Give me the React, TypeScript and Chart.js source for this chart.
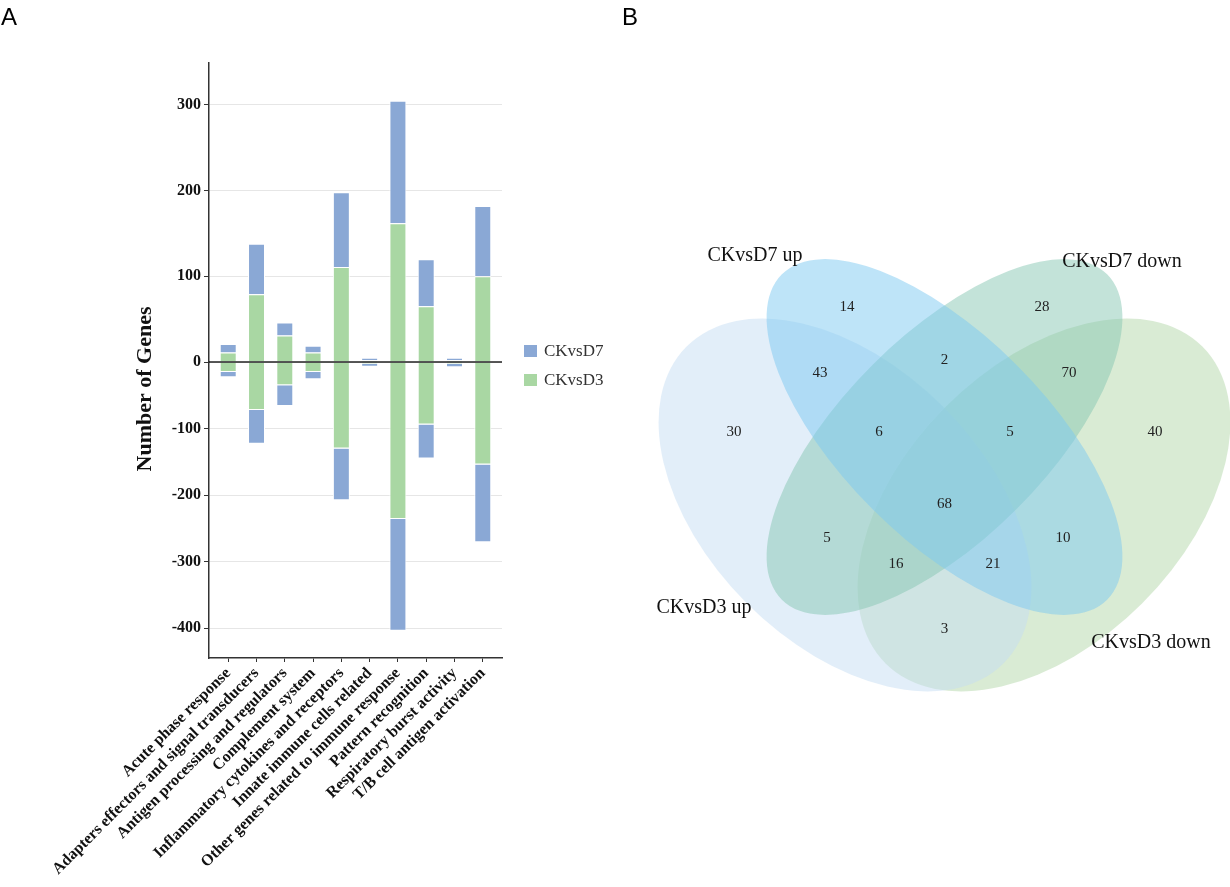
import React, { useEffect, useRef } from "react";
import { Chart, registerables } from "chart.js";

Chart.register(...registerables);

// ---------------- Panel A data ----------------
const categories = [
  "Acute phase response",
  "Adapters effectors and signal transducers",
  "Antigen processing and regulators",
  "Complement system",
  "Inflammatory cytokines and receptors",
  "Innate immune cells related",
  "Other genes related to immune response",
  "Pattern recognition",
  "Respiratory burst activity",
  "T/B cell antigen activation",
];
// stacked segments: CKvsD3 at the base, CKvsD7 stacked outward
const d3Up = [11, 79, 31, 11, 111, 2, 162, 65, 2, 100];
const d7Up = [10, 59, 15, 8, 87, 3, 143, 55, 3, 82];
const d3Down = [-15, -72, -35, -15, -130, -3, -236, -94, -3, -154];
const d7Down = [-8, -51, -31, -11, -78, -4, -168, -51, -5, -117];
const seriesNames = ["CKvsD7", "CKvsD3"];
const yTicksStep = 100;

// ---------------- Panel B data ----------------
const vennSetNames = ["CKvsD3 up", "CKvsD7 up", "CKvsD7 down", "CKvsD3 down"];
const vennRegionIds = [
  "D3u", "D7u", "D3u&D7u", "D3u&D7u&D7d", "D7u&D7d", "D7d", "D7d&D3d", "D7u&D7d&D3d",
  "D3d", "D3u&D7d", "D3u&D7d&D3d", "all", "D3u&D7u&D3d", "D7u&D3d", "D3u&D3d",
];
const vennCounts = [30, 14, 43, 6, 2, 28, 70, 5, 40, 5, 16, 68, 21, 10, 3];

// ---------------- layout (not data) ----------------
const SERIF = "'Liberation Serif', 'Times New Roman', serif";
const SANS = "'Liberation Sans', Arial, sans-serif";
const BLUE = "#8AA8D5";
const GREEN = "#A9D7A3";

const vennRegionPos: Record<string, [number, number]> = {
  "D3u": [734, 432],
  "D7u": [847, 307],
  "D3u&D7u": [820, 373],
  "D3u&D7u&D7d": [879, 432],
  "D7u&D7d": [944.5, 360],
  "D7d": [1042, 307],
  "D7d&D3d": [1069, 373],
  "D7u&D7d&D3d": [1010, 432],
  "D3d": [1155, 432],
  "D3u&D7d": [827, 538],
  "D3u&D7d&D3d": [896, 564],
  "all": [944.5, 504],
  "D3u&D7u&D3d": [993, 564],
  "D7u&D3d": [1063, 538],
  "D3u&D3d": [944.5, 629],
};
// drawing order: D3 down, D3 up, D7 down, D7 up
const vennEllipses = [
  { set: 3, cx: 1044, cy: 505, a: 224, b: 139, rot: -45, fill: "rgba(180,216,170,0.5)" },
  { set: 0, cx: 845, cy: 505, a: 224, b: 139, rot: 45, fill: "rgba(198,222,243,0.5)" },
  { set: 2, cx: 944.5, cy: 437, a: 230, b: 102, rot: -45, fill: "rgba(135,200,180,0.5)" },
  { set: 1, cx: 944.5, cy: 437, a: 230, b: 102, rot: 45, fill: "rgba(125,202,242,0.5)" },
];
const vennSetLabelPos: [number, number][] = [
  [704, 608],
  [755, 256],
  [1122, 262],
  [1151, 643],
];

const barDecor = {
  id: "barDecor",
  afterDatasetsDraw(chart: any) {
    const { ctx, chartArea } = chart;
    const y0 = chart.scales.yTop.getPixelForValue(0);
    ctx.save();
    ctx.strokeStyle = "#222";
    ctx.lineWidth = 1.5;
    ctx.beginPath();
    ctx.moveTo(chartArea.left, y0);
    ctx.lineTo(chartArea.right, y0);
    ctx.stroke();
    ctx.restore();
  },
  afterDraw(chart: any) {
    const { ctx } = chart;
    ctx.save();
    // axis title
    ctx.translate(145, 389);
    ctx.rotate(-Math.PI / 2);
    ctx.font = `bold 22px ${SERIF}`;
    ctx.fillStyle = "#111";
    ctx.textAlign = "center";
    ctx.textBaseline = "middle";
    ctx.fillText("Number of Genes", 0, 0);
    ctx.restore();

    // legend
    ctx.save();
    const colors = [BLUE, GREEN];
    ctx.font = `17px ${SERIF}`;
    ctx.textBaseline = "middle";
    ctx.textAlign = "left";
    seriesNames.forEach((name, i) => {
      const cy = 351 + i * 29;
      ctx.fillStyle = colors[i];
      ctx.fillRect(524, cy - 6, 13, 12);
      ctx.fillStyle = "#333";
      ctx.fillText(name, 544, cy + 1);
    });
    // panel label
    ctx.font = `24px ${SANS}`;
    ctx.fillStyle = "#000";
    ctx.textBaseline = "alphabetic";
    ctx.fillText("A", 1, 25);
    ctx.restore();
  },
};

const vennDecor = {
  id: "vennDecor",
  beforeDatasetsDraw(chart: any) {
    const { ctx } = chart;
    const sx = chart.scales.x;
    const sy = chart.scales.y;
    ctx.save();
    vennEllipses.forEach((e) => {
      const px = sx.getPixelForValue(e.cx);
      const py = sy.getPixelForValue(e.cy);
      const rx = Math.abs(sx.getPixelForValue(e.cx + e.a) - px);
      const ry = Math.abs(sy.getPixelForValue(e.cy + e.b) - py);
      ctx.beginPath();
      ctx.ellipse(px, py, rx, ry, (e.rot * Math.PI) / 180, 0, Math.PI * 2);
      ctx.fillStyle = e.fill;
      ctx.fill();
    });
    ctx.restore();
  },
  afterDatasetsDraw(chart: any) {
    const { ctx } = chart;
    const sx = chart.scales.x;
    const sy = chart.scales.y;
    const meta = chart.getDatasetMeta(0);
    ctx.save();
    ctx.textAlign = "center";
    ctx.textBaseline = "middle";
    ctx.fillStyle = "#222";
    ctx.font = `15px ${SERIF}`;
    meta.data.forEach((pt: any, i: number) => {
      ctx.fillText(String(vennCounts[i]), pt.x, pt.y);
    });
    ctx.font = `20px ${SERIF}`;
    ctx.fillStyle = "#111";
    vennSetNames.forEach((name, i) => {
      const [lx, ly] = vennSetLabelPos[i];
      ctx.fillText(name, sx.getPixelForValue(lx), sy.getPixelForValue(ly));
    });
    ctx.font = `24px ${SANS}`;
    ctx.fillStyle = "#000";
    ctx.textAlign = "left";
    ctx.textBaseline = "alphabetic";
    ctx.fillText("B", sx.getPixelForValue(622), sy.getPixelForValue(25));
    ctx.restore();
  },
};

export default function App() {
  const barRef = useRef<HTMLCanvasElement>(null);
  const vennRef = useRef<HTMLCanvasElement>(null);

  useEffect(() => {
    const tickFont = { family: SERIF, size: 16, weight: "bold" as const };
    const toPts = (arr: number[]) => arr.map((v, i) => ({ x: i, y: v }));
    const barCommon = {
      borderColor: "#ffffff",
      borderWidth: 1,
      borderSkipped: "start",
      stack: "all",
      barPercentage: 0.6,
      categoryPercentage: 1,
    };

    const bar = new Chart(barRef.current as HTMLCanvasElement, {
      type: "bar",
      data: {
        datasets: [
          { ...barCommon, label: "CKvsD3", data: toPts(d3Up), backgroundColor: GREEN, yAxisID: "yTop" },
          { ...barCommon, label: "CKvsD7", data: toPts(d7Up), backgroundColor: BLUE, yAxisID: "yTop" },
          { ...barCommon, label: "CKvsD3", data: toPts(d3Down), backgroundColor: GREEN, yAxisID: "yBot" },
          { ...barCommon, label: "CKvsD7", data: toPts(d7Down), backgroundColor: BLUE, yAxisID: "yBot" },
        ] as any,
      },
      options: {
        animation: false,
        responsive: false,
        devicePixelRatio: 1,
        events: [],
        layout: { padding: { top: 63, right: 118, left: 0, bottom: 0 } },
        plugins: { legend: { display: false }, tooltip: { enabled: false } },
        scales: {
          x: {
            type: "linear",
            position: "bottom",
            min: -0.68,
            max: 9.68,
            offset: false,
            stacked: true,
            afterBuildTicks: (s: any) => {
              s.ticks = categories.map((_, i) => ({ value: i }));
            },
            afterFit: (s: any) => {
              s.height = 229;
            },
            ticks: {
              autoSkip: false,
              minRotation: 45,
              maxRotation: 45,
              padding: 2,
              color: "#111",
              font: tickFont,
              callback: (v: any) => categories[v as number] ?? "",
            },
            grid: { offset: false, drawOnChartArea: false, tickLength: 4, tickColor: "#333", color: "#333" },
            border: { color: "#333", width: 1.5 },
          },
          yTop: {
            type: "linear",
            position: "left",
            stack: "v",
            stackWeight: 299,
            weight: 2,
            stacked: true,
            min: 0,
            max: 349,
            afterFit: (s: any) => {
              s.width = 209;
            },
            ticks: { stepSize: yTicksStep, includeBounds: false, padding: 3, color: "#111", font: tickFont },
            grid: { color: "#e6e6e6", tickColor: "#333", tickLength: 5 },
            border: { color: "#333", width: 1.5 },
          },
          yBot: {
            type: "linear",
            position: "left",
            stack: "v",
            stackWeight: 296,
            weight: 1,
            stacked: true,
            min: -445,
            max: 0,
            afterFit: (s: any) => {
              s.width = 209;
            },
            ticks: {
              stepSize: yTicksStep,
              includeBounds: false,
              padding: 3,
              color: "#111",
              font: tickFont,
              callback: (v: any) => (v === 0 ? "" : String(v)),
            },
            grid: { color: "#e6e6e6", tickColor: "#333", tickLength: 5 },
            border: { color: "#333", width: 1.5 },
          },
        } as any,
      },
      plugins: [barDecor],
    });

    const venn = new Chart(vennRef.current as HTMLCanvasElement, {
      type: "scatter",
      data: {
        datasets: [
          {
            label: "regions",
            data: vennRegionIds.map((id) => ({ x: vennRegionPos[id][0], y: vennRegionPos[id][1] })),
            pointRadius: 0,
          },
        ],
      },
      options: {
        animation: false,
        responsive: false,
        devicePixelRatio: 1,
        events: [],
        layout: { padding: 0 },
        plugins: { legend: { display: false }, tooltip: { enabled: false } },
        scales: {
          x: { type: "linear", min: 620, max: 1230, display: false },
          y: { type: "linear", min: 0, max: 887, reverse: true, display: false },
        },
      },
      plugins: [vennDecor],
    });

    return () => {
      bar.destroy();
      venn.destroy();
    };
  }, []);

  return (
    <div style={{ position: "absolute", left: 0, top: 0, width: 1230, height: 887, background: "#fff" }}>
      <canvas
        ref={barRef}
        width={620}
        height={887}
        style={{ position: "absolute", left: 0, top: 0, width: 620, height: 887 }}
      />
      <canvas
        ref={vennRef}
        width={610}
        height={887}
        style={{ position: "absolute", left: 620, top: 0, width: 610, height: 887 }}
      />
    </div>
  );
}
